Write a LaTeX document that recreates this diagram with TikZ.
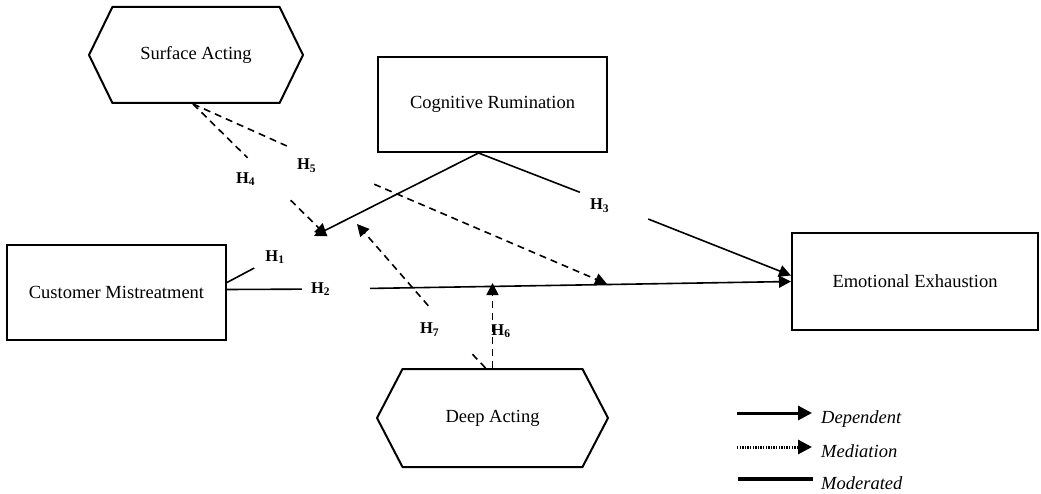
\documentclass[tikz,border=0pt]{standalone}
\usepackage{fontspec}
\setmainfont{Liberation Serif}
\usetikzlibrary{calc}
\usetikzlibrary{arrows.meta}
\usetikzlibrary{shapes.symbols}

\begin{document}
\begin{tikzpicture}[x=1pt,y=-1pt]
    \tikzstyle{every node}=[font=\fontsize{18.5}{22}\selectfont]
    \tikzstyle{box}=[draw=black,line width=2pt,rectangle,inner sep=0pt]
    \tikzstyle{hexa}=[draw=black,line width=2pt,shape=signal,signal to=west and east,inner sep=0pt]
    \tikzstyle{hyp}=[font=\fontsize{16.5}{18}\selectfont\bfseries,align=left,inner ysep=2pt]
    \tikzstyle{conn}=[draw=black,line width=1.6pt]
    \tikzstyle{dep}=[conn,-{Triangle[length=12pt,width=12pt]}]
    \tikzstyle{med}=[conn,dash pattern=on 7pt off 5pt]
    \tikzstyle{medarr}=[med,-{Triangle[length=12pt,width=12pt]}]
    \tikzstyle{legtxt}=[font=\fontsize{18.5}{22}\selectfont\itshape,anchor=base west,inner sep=0pt]

   \useasboundingbox (0,0) rectangle (1041,494);

   \node[box,minimum width=219pt,minimum height=95pt] (cm) at (116.5,292.5) {Customer Mistreatment};
   \node[box,minimum width=246pt,minimum height=97pt] (ee) at (915,281.5) {Emotional Exhaustion};
   \node[box,minimum width=229pt,minimum height=95pt] (cr) at (492.5,104.5) {Cognitive Rumination};
   \node[hexa,signal pointer angle=128,minimum width=214pt,minimum height=96pt] (sa) at (196,55) {Surface Acting};
   \node[hexa,signal pointer angle=125,minimum width=231pt,minimum height=98pt] (da) at (492.5,418) {Deep Acting};

   \node[hyp,inner xsep=11pt,inner ysep=6pt] (h1) at (275,257) {H\textsubscript{1}};
   \node[hyp,text width=50pt,inner xsep=9pt] (h2) at (336,289) {H\textsubscript{2}};
   \node[hyp,text width=48pt,inner xsep=10pt,minimum height=34pt] (h3) at (614,205.5) {H\textsubscript{3}};
   \node[hyp,text width=66pt,inner xsep=6pt,minimum height=42pt] (h4) at (269,179) {H\textsubscript{4}};
   \node[hyp,text width=67pt,inner xsep=10pt,minimum height=44pt] (h5) at (330.5,165.5) {H\textsubscript{5}};
   \node[hyp] (h6) at (501,331) {H\textsubscript{6}};
   \node[hyp,text width=58pt,inner xsep=4pt,minimum height=47pt] (h7) at (449,329.5) {H\textsubscript{7}};

   \coordinate (m1) at (314,236);
   \coordinate (m4) at (327,236);
   \coordinate (m5) at (607,284);
   \coordinate (m6) at (492.5,283);
   \coordinate (m7) at (357,224);

   \draw[conn] ([yshift=10pt]cm.east) -- (h1);
   \draw[conn] ([yshift=3pt]cm.east) -- (h2);
   \draw[dep] (h2) -- (ee.west);

   \draw[dep] ([xshift=-14pt]cr.south) -- (m1);
   \draw[conn] ([xshift=-14pt]cr.south) -- (h3);
   \draw[dep] (h3) -- ([yshift=6pt]ee.west);

   \draw[med] ([xshift=-3pt]sa.south) -- (h4);
   \draw[medarr] (h4) -- (m4);
   \draw[med] ([xshift=-3pt]sa.south) -- (h5);
   \draw[medarr] (h5) -- (m5);

   \draw[medarr] (da.north) -- (m6);
   \draw[med] ([xshift=-7pt]da.north) -- (h7);
   \draw[medarr] (h7) -- (m7);

   \coordinate (lg1) at (737,413);
   \coordinate (lg1e) at (812,413);
   \coordinate (lg2) at (737,447);
   \coordinate (lg2e) at (812,447);
   \coordinate (lg3) at (738,479);
   \coordinate (lg3e) at (813,479);

   \draw[conn,line width=3pt,-{Triangle[length=14pt,width=14pt]}] (lg1) -- (lg1e);
   \draw[conn,line width=3pt,dash pattern=on 1.4pt off 1.2pt,-{Triangle[length=14pt,width=14pt]}] (lg2) -- (lg2e);
   \draw[conn,line width=3.2pt] (lg3) -- (lg3e);

   \node[legtxt] (tdep) at (821,423) {Dependent};
   \node[legtxt] (tmed) at (821,457) {Mediation};
   \node[legtxt] (tmod) at (821,489) {Moderated};

  \end{tikzpicture}
\end{document}
